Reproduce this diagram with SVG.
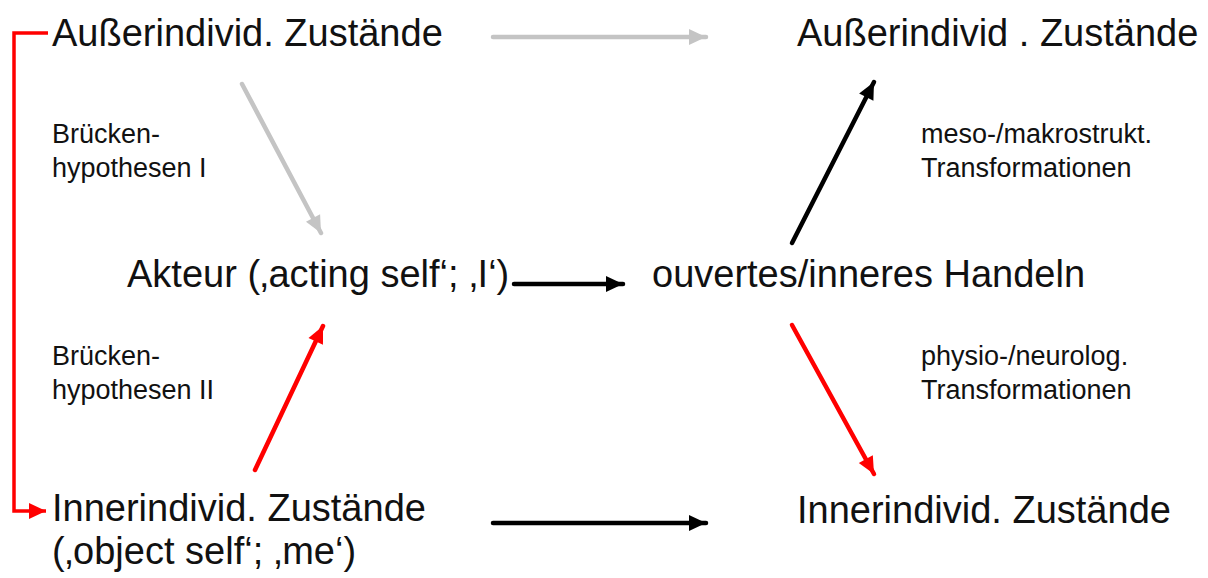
<svg xmlns="http://www.w3.org/2000/svg" width="1208" height="578" viewBox="0 0 1208 578">
<style>
.big{font-family:"Liberation Sans",Arial,sans-serif;font-size:38px;fill:#111}
.small{font-family:"Liberation Sans",Arial,sans-serif;font-size:27px;fill:#111}
.c{fill:none;stroke-width:4.5;stroke-linecap:round}
</style>
<defs>
<marker id="ak" markerUnits="userSpaceOnUse" markerWidth="20" markerHeight="20" viewBox="0 0 20 20" refX="18" refY="10" orient="auto"><path d="M1,2 L18,10 L1,18 Z" fill="#000"/></marker>
<marker id="ag" markerUnits="userSpaceOnUse" markerWidth="20" markerHeight="20" viewBox="0 0 20 20" refX="18" refY="10" orient="auto"><path d="M1,2 L18,10 L1,18 Z" fill="#c4c4c4"/></marker>
<marker id="ar" markerUnits="userSpaceOnUse" markerWidth="20" markerHeight="20" viewBox="0 0 20 20" refX="18" refY="10" orient="auto"><path d="M1,2 L18,10 L1,18 Z" fill="#ff0000"/></marker>
</defs>
<rect width="1208" height="578" fill="#fff"/>
<g id="connectors">
<path d="M48,33 H14 V511 H46" fill="none" stroke="#ff0000" stroke-width="3.5" marker-end="url(#ar)"/>
<line class="c" x1="493" y1="37" x2="706" y2="37" stroke="#c4c4c4" marker-end="url(#ag)"/>
<line class="c" x1="242" y1="84" x2="321" y2="233" stroke="#c4c4c4" marker-end="url(#ag)"/>
<line class="c" x1="514" y1="284" x2="623" y2="284" stroke="#000" marker-end="url(#ak)"/>
<line class="c" x1="792" y1="243" x2="874" y2="82" stroke="#000" marker-end="url(#ak)"/>
<line class="c" x1="792" y1="325" x2="874" y2="474" stroke="#ff0000" marker-end="url(#ar)"/>
<line class="c" x1="255" y1="470" x2="323" y2="326" stroke="#ff0000" marker-end="url(#ar)"/>
<line class="c" x1="493" y1="523" x2="706" y2="523" stroke="#000" marker-end="url(#ak)"/>
</g>
<g id="aussen-links"><text class="big" x="52" y="46">Außerindivid. Zustände</text></g>
<g id="aussen-rechts"><text class="big" x="797" y="46">Außerindivid . Zustände</text></g>
<g id="akteur"><text class="big" x="127" y="287">Akteur (‚acting self‘; ‚I‘)</text></g>
<g id="handeln"><text class="big" x="652" y="287">ouvertes/inneres Handeln</text></g>
<g id="innen-links"><text class="big" x="52" y="521">Innerindivid. Zustände</text><text class="big" x="52" y="564">(‚object self‘; ‚me‘)</text></g>
<g id="innen-rechts"><text class="big" x="797" y="523">Innerindivid. Zustände</text></g>
<g id="label-bh1"><text class="small" x="52" y="143">Brücken-</text><text class="small" x="52" y="177">hypothesen I</text></g>
<g id="label-bh2"><text class="small" x="52" y="365">Brücken-</text><text class="small" x="52" y="399">hypothesen II</text></g>
<g id="label-meso"><text class="small" x="921" y="143">meso-/makrostrukt.</text><text class="small" x="921" y="177">Transformationen</text></g>
<g id="label-physio"><text class="small" x="921" y="365">physio-/neurolog.</text><text class="small" x="921" y="399">Transformationen</text></g>
</svg>
